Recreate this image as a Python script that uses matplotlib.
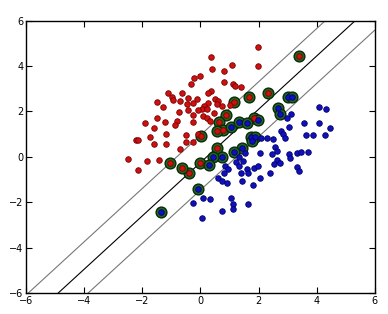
import matplotlib
matplotlib.use("Agg")
import matplotlib.pyplot as plt
import numpy as np

# classe vermelha (fora dos vetores de suporte)
red_x = [-1.10, -0.96, -0.93, -0.62, -0.34, -0.21, -1.51, -1.30, -0.69, -0.41,
         -0.45, -0.27, -0.72, -0.41, -0.24, -1.92, -1.48, -1.23, -1.58, -0.79,
         -0.89, -0.27, -2.23, -2.13, -1.75, -1.58, -1.17, -1.17, -0.51, -0.51,
         -0.69, -0.27, -2.50, -1.82, -1.44, -2.13, 1.99, 1.99, 0.38, 0.41,
         1.10, 0.82, 0.00, 0.82, 1.13, 1.20, 1.41, 0.38, 0.27, -0.10,
         0.51, 0.62, 0.58, 0.27, 0.14, 0.07, 0.24, -0.07, 0.48, 0.75,
         1.03, 0.10, 0.21, 0.34, -0.07]
red_y = [2.81, 2.64, 2.51, 2.81, 3.21, 3.47, 2.42, 2.20, 2.46, 2.59,
         2.33, 2.37, 1.98, 2.07, 1.85, 1.49, 1.71, 1.54, 1.27, 1.58,
         1.41, 1.54, 0.75, 0.75, 0.88, 0.57, 1.01, 0.57, 0.97, 0.66,
         0.35, 0.66, -0.09, -0.18, -0.13, -0.57, 4.84, 4.00, 4.40, 3.87,
         4.04, 3.78, 3.56, 3.30, 3.21, 3.12, 3.08, 2.90, 2.81, 2.55,
         2.55, 2.46, 2.33, 2.37, 2.24, 2.11, 2.11, 2.07, 1.93, 2.24,
         2.29, 1.80, 1.71, 1.58, 1.01]

# classe vermelha - vetores de suporte
red_sv_x = [3.40, 2.33, 1.68, 1.17, 1.85, 0.89, 0.65, 0.79, 0.58, 0.03,
            0.58, 0.00, -0.38, -0.65, -1.03]
red_sv_y = [4.44, 2.81, 2.64, 2.42, 1.71, 1.85, 1.54, 1.19, 1.14, 0.92,
            0.40, -0.26, -0.70, -0.48, -0.26]

# classe azul (fora dos vetores de suporte)
blue_x = [4.08, 4.32, 3.12, 2.98, 3.57, 4.08, 4.46, 3.05, 2.78, 2.85,
          2.92, 2.30, 2.50, 2.09, 3.64, 3.88, 4.29, 2.57, 2.64, 2.47,
          2.06, 3.05, 3.09, 3.33, 3.46, 3.70, 2.64, 2.54, 2.74, 3.33,
          3.40, 2.40, 2.06, 1.34, 1.54, 1.23, 1.48, 1.34, 1.61, 1.65,
          1.41, 0.86, 0.96, 0.82, 0.62, 0.75, 0.93, 1.44, 1.82, 1.85,
          1.99, -0.27, 0.10, 0.34, 1.06, 1.13, 1.13, 0.75, 1.65, 0.07]
blue_y = [2.20, 2.11, 1.89, 1.71, 1.49, 1.49, 1.27, 1.32, 1.14, 1.01,
          0.84, 0.84, 0.79, 0.84, 0.97, 0.97, 0.97, 0.44, 0.26, 0.13,
          0.18, 0.13, -0.04, 0.18, 0.22, 0.22, -0.13, -0.31, -0.26, -0.44,
          -0.62, -0.70, -0.92, 0.00, 0.18, -0.22, -0.18, -0.40, -0.53, -0.70,
          -0.70, -0.40, -0.53, -0.70, -0.92, -1.06, -1.14, -1.06, -1.23, -0.48,
          -0.40, -2.02, -1.80, -1.85, -1.80, -2.07, -2.29, -2.37, -2.07, -2.68]

# classe azul - vetores de suporte
blue_sv_x = [3.02, 3.16, 2.68, 2.74, 1.06, 1.34, 1.61, 1.99, 1.75, 1.89,
             1.78, 1.44, 1.17, 0.75, 0.45, 0.31, -0.07, -1.34]
blue_sv_y = [2.64, 2.64, 2.15, 1.89, 1.32, 1.54, 1.49, 1.63, 0.88, 0.88,
             0.70, 0.40, 0.22, 0.00, 0.00, -0.35, -1.41, -2.42]

# hiperplano separador e margem
slope = 1.175
intercept = -0.255
margin = 1.21

fig = plt.figure(figsize=(3.88, 3.14), dpi=100)
ax = fig.add_axes([0.067, 0.067, 0.899, 0.867])

xx = np.linspace(-6, 6, 50)
yy = slope * xx + intercept
ax.plot(xx, yy, color="k", linewidth=0.8)
ax.plot(xx, yy + margin, color="#777777", linewidth=0.8)
ax.plot(xx, yy - margin, color="#777777", linewidth=0.8)

ax.scatter(red_sv_x + blue_sv_x, red_sv_y + blue_sv_y, s=60, c="#1e6b1e",
           edgecolors="#0a2a0a", linewidths=1.0, zorder=3)
ax.scatter(red_x + red_sv_x, red_y + red_sv_y, s=16, c="#cc1111",
           edgecolors="#7a0000", linewidths=0.6, zorder=4)
ax.scatter(blue_x + blue_sv_x, blue_y + blue_sv_y, s=16, c="#1111bb",
           edgecolors="#00006a", linewidths=0.6, zorder=4)

ax.set_xlim(-6, 6)
ax.set_ylim(-6, 6)
ax.set_xticks([-6, -4, -2, 0, 2, 4, 6])
ax.set_yticks([-6, -4, -2, 0, 2, 4, 6])
ax.tick_params(direction="in", top=True, right=True, labelsize=7, length=4, pad=2)
for s in ax.spines.values():
    s.set_linewidth(1.0)

fig.savefig("out.png", dpi=100)
